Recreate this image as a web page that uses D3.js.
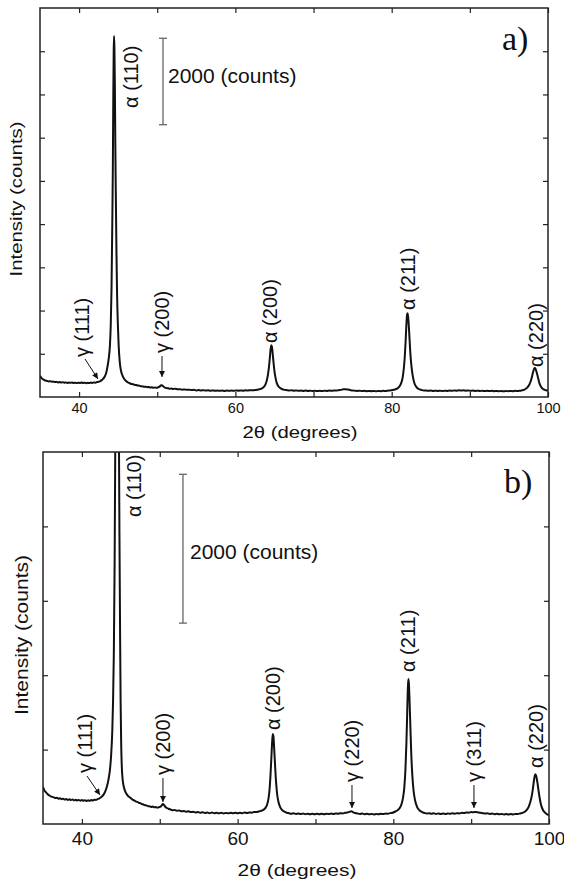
<!DOCTYPE html>
<html>
<head>
<meta charset="utf-8">
<script src="https://cdn.jsdelivr.net/npm/d3@7"></script>
<style>
  html, body { margin: 0; padding: 0; background: #fff; }
  svg { display: block; }
  text { font-family: "Liberation Sans", Arial, Helvetica, sans-serif; fill: #111; }
</style>
</head>
<body>
<svg id="chart" width="564" height="882"></svg>
<script>
// ---- Data: XRD patterns, 2θ (degrees) vs intensity (counts) ----
const angleDomain = [35, 100];
const angleTicks = [40, 50, 60, 70, 80, 90, 100];
const angleTickLabels = [40, 60, 80, 100];

const countMaxA = 9000;
const countTicksA = [1000, 2000, 3000, 4000, 5000, 6000, 7000, 8000];
const countMaxB = 5000;
const countTicksB = [1000, 2000, 3000, 4000];

const patternA = [
  [35.0,490],[35.15,450],[35.3,420],[35.5,395],[35.7,380],[35.9,372],[36.1,360],[36.3,366],[36.5,352],[36.7,358],
  [36.9,345],[37.1,350],[37.3,338],[37.5,346],[37.7,335],[37.9,342],[38.1,330],[38.3,338],[38.5,326],[38.7,334],
  [38.9,328],[39.1,336],[39.3,324],[39.5,332],[39.7,322],[39.9,330],[40.1,325],[40.3,335],[40.5,324],[40.7,332],
  [40.9,320],[41.1,328],[41.3,322],[41.5,334],[41.7,326],[41.9,336],[42.1,332],[42.3,345],[42.5,352],[42.7,368],
  [42.9,390],[43.1,425],[43.3,480],[43.5,580],[43.65,720],[43.8,900],[43.95,1200],[44.05,1650],[44.15,2500],[44.25,4000],
  [44.32,5300],[44.38,7000],[44.43,8000],[44.47,8350],[44.52,8100],[44.58,7200],[44.64,5800],[44.7,4700],[44.78,3400],[44.86,2400],
  [44.95,1750],[45.05,1250],[45.2,820],[45.35,620],[45.5,520],[45.7,440],[45.9,390],[46.1,355],[46.3,335],[46.5,318],
  [46.7,300],[46.9,296],[47.1,282],[47.3,278],[47.5,265],[47.7,262],[47.9,250],[48.1,246],[48.3,238],[48.5,240],
  [48.7,228],[48.9,232],[49.1,220],[49.3,224],[49.5,214],[49.7,220],[49.9,212],[50.1,222],[50.3,240],[50.5,272],
  [50.65,268],[50.8,240],[51.0,215],[51.2,205],[51.4,200],[51.6,192],[51.8,196],[52.0,186],[52.3,190],[52.6,178],
  [52.9,182],[53.2,170],[53.5,175],[53.8,165],[54.1,170],[54.4,160],[54.7,165],[55.0,152],[55.3,160],[55.6,150],
  [55.9,158],[56.2,148],[56.5,155],[56.8,145],[57.1,153],[57.4,144],[57.7,150],[58.0,142],[58.3,150],[58.6,140],
  [58.9,148],[59.2,142],[59.5,150],[59.8,143],[60.1,152],[60.4,145],[60.7,153],[61.0,146],[61.3,155],[61.6,150],
  [61.9,158],[62.2,154],[62.5,162],[62.8,168],[63.1,180],[63.4,200],[63.65,235],[63.85,290],[64.0,370],[64.15,500],
  [64.3,700],[64.42,930],[64.52,1130],[64.6,1200],[64.68,1160],[64.78,990],[64.9,760],[65.02,570],[65.15,430],[65.3,320],
  [65.5,250],[65.75,205],[66.0,180],[66.3,165],[66.6,158],[66.9,150],[67.2,156],[67.5,146],[67.8,152],[68.1,143],
  [68.4,150],[68.7,140],[69.0,148],[69.3,139],[69.6,146],[69.9,138],[70.2,145],[70.5,137],[70.8,144],[71.1,138],
  [71.4,146],[71.7,140],[72.0,148],[72.3,142],[72.6,150],[72.9,148],[73.2,158],[73.5,165],[73.8,178],[74.1,182],
  [74.4,172],[74.7,160],[75.0,150],[75.3,146],[75.6,140],[75.9,146],[76.2,137],[76.5,143],[76.8,135],[77.1,141],
  [77.4,133],[77.7,140],[78.0,132],[78.3,140],[78.6,135],[78.9,142],[79.2,138],[79.5,146],[79.8,152],[80.1,162],
  [80.4,175],[80.7,195],[80.95,235],[81.2,315],[81.4,450],[81.55,660],[81.68,950],[81.78,1280],[81.88,1670],[81.96,1900],
  [82.02,1940],[82.1,1860],[82.2,1620],[82.3,1290],[82.42,930],[82.56,660],[82.72,460],[82.9,325],[83.15,235],[83.45,185],
  [83.8,162],[84.1,150],[84.4,150],[84.7,142],[85.0,148],[85.3,140],[85.6,147],[85.9,139],[86.2,146],[86.5,138],
  [86.8,145],[87.1,140],[87.4,148],[87.7,144],[88.0,152],[88.3,146],[88.6,154],[88.9,148],[89.2,155],[89.5,147],
  [89.8,152],[90.1,144],[90.4,150],[90.7,141],[91.0,147],[91.3,139],[91.6,145],[91.9,137],[92.2,143],[92.5,136],
  [92.8,142],[93.1,134],[93.4,140],[93.7,133],[94.0,139],[94.3,132],[94.6,138],[94.9,134],[95.2,140],[95.5,135],
  [95.8,142],[96.1,140],[96.4,146],[96.6,152],[96.8,160],[97.0,172],[97.2,195],[97.4,230],[97.6,285],[97.8,370],
  [97.95,470],[98.1,585],[98.22,650],[98.3,670],[98.4,652],[98.55,570],[98.7,465],[98.85,355],[99.0,275],[99.2,210],
  [99.45,175],[99.7,158],[99.85,152],[100.0,160]
];

const patternB = [
  [35.0,500],[35.1,470],[35.25,440],[35.4,425],[35.6,400],[35.8,385],[36.0,372],[36.2,364],[36.4,358],[36.6,348],
  [36.8,352],[37.0,340],[37.2,346],[37.4,334],[37.6,340],[37.8,328],[38.0,336],[38.2,324],[38.4,332],[38.6,322],
  [38.8,330],[39.0,318],[39.2,326],[39.4,316],[39.6,324],[39.8,314],[40.0,322],[40.2,312],[40.4,320],[40.6,310],
  [40.8,318],[41.0,312],[41.2,322],[41.4,316],[41.6,326],[41.8,324],[42.0,334],[42.2,342],[42.4,356],[42.6,372],
  [42.8,398],[43.0,440],[43.2,500],[43.4,590],[43.6,730],[43.75,920],[43.9,1250],[44.0,1650],[44.1,2300],[44.2,3500],
  [44.28,5000],[44.35,7000],[44.42,9000],[44.5,10500],[44.58,9500],[44.66,7500],[44.74,5500],[44.82,3900],[44.9,2600],[44.97,1650],
  [45.04,1100],[45.12,780],[45.22,610],[45.36,510],[45.5,455],[45.7,410],[45.9,380],[46.1,362],[46.3,345],[46.5,328],
  [46.7,318],[46.9,304],[47.1,298],[47.3,286],[47.5,280],[47.7,268],[47.9,262],[48.1,252],[48.3,250],[48.5,240],
  [48.7,238],[48.9,230],[49.1,234],[49.3,224],[49.5,228],[49.7,220],[49.9,226],[50.1,232],[50.25,250],[50.4,268],
  [50.55,255],[50.7,232],[50.9,215],[51.1,205],[51.3,198],[51.5,190],[51.7,185],[51.9,188],[52.2,178],[52.5,182],
  [52.8,170],[53.1,175],[53.4,165],[53.7,170],[54.0,160],[54.3,165],[54.6,156],[54.9,162],[55.2,152],[55.5,158],
  [55.8,148],[56.1,155],[56.4,146],[56.7,153],[57.0,145],[57.3,151],[57.6,143],[57.9,150],[58.2,142],[58.5,149],
  [58.8,143],[59.1,150],[59.4,144],[59.7,151],[60.0,145],[60.3,152],[60.6,146],[60.9,154],[61.2,148],[61.5,156],
  [61.8,152],[62.1,160],[62.4,160],[62.7,168],[63.0,176],[63.3,190],[63.6,220],[63.8,265],[63.97,345],[64.1,460],
  [64.22,650],[64.34,900],[64.44,1110],[64.52,1210],[64.6,1180],[64.7,1010],[64.82,770],[64.95,550],[65.08,400],[65.25,295],
  [65.45,230],[65.7,190],[66.0,166],[66.3,152],[66.6,145],[66.9,138],[67.2,144],[67.5,135],[67.8,142],[68.1,133],
  [68.4,140],[68.7,132],[69.0,139],[69.3,131],[69.6,138],[69.9,130],[70.2,137],[70.5,130],[70.8,138],[71.1,131],
  [71.4,139],[71.7,133],[72.0,140],[72.3,134],[72.6,142],[72.9,138],[73.2,145],[73.5,142],[73.8,150],[74.1,155],
  [74.4,165],[74.6,170],[74.85,158],[75.1,148],[75.4,142],[75.7,136],[76.0,141],[76.3,132],[76.6,138],[76.9,130],
  [77.2,136],[77.5,129],[77.8,135],[78.1,130],[78.4,138],[78.7,133],[79.0,140],[79.3,137],[79.6,146],[79.9,152],
  [80.2,165],[80.5,182],[80.8,212],[81.05,265],[81.25,355],[81.42,500],[81.56,740],[81.68,1080],[81.78,1470],[81.86,1800],
  [81.93,1950],[82.0,1890],[82.08,1680],[82.18,1350],[82.3,960],[82.44,660],[82.6,450],[82.8,315],[83.05,230],[83.35,185],
  [83.7,160],[84.0,148],[84.3,140],[84.6,145],[84.9,137],[85.2,143],[85.5,136],[85.8,142],[86.1,134],[86.4,141],
  [86.7,135],[87.0,142],[87.3,137],[87.6,143],[87.9,139],[88.2,146],[88.5,142],[88.8,150],[89.1,148],[89.4,155],
  [89.7,152],[90.0,160],[90.3,158],[90.6,162],[90.9,156],[91.2,150],[91.5,146],[91.8,140],[92.1,144],[92.4,135],
  [92.7,140],[93.0,132],[93.3,138],[93.6,130],[93.9,136],[94.2,129],[94.5,135],[94.8,128],[95.1,134],[95.4,129],
  [95.7,136],[96.0,134],[96.3,142],[96.6,150],[96.9,165],[97.15,190],[97.4,235],[97.6,295],[97.8,385],[97.95,490],
  [98.08,595],[98.18,652],[98.26,670],[98.36,645],[98.5,565],[98.64,460],[98.8,350],[98.95,270],[99.15,205],[99.4,162],
  [99.65,138],[99.85,126],[100.0,130]
];

// Peak labels: text, 2θ of label centre, count at which the label starts
const peakLabelsA = [
  { text: "γ (111)", at: 40.37, base: 925 },
  { text: "α (110)", at: 46.64, base: 6687 },
  { text: "γ (200)", at: 50.61, base: 1018 },
  { text: "α (200)", at: 64.43, base: 1249 },
  { text: "α (211)", at: 82.09, base: 2013 },
  { text: "α (220)", at: 98.47, base: 694 }
];
const peakLabelsB = [
  { text: "α (110)", at: 46.69, base: 4126 },
  { text: "γ (111)", at: 40.39, base: 685 },
  { text: "γ (200)", at: 50.41, base: 659 },
  { text: "α (200)", at: 64.54, base: 1263 },
  { text: "γ (220)", at: 74.69, base: 565 },
  { text: "α (211)", at: 81.89, base: 2043 },
  { text: "γ (311)", at: 90.36, base: 565 },
  { text: "α (220)", at: 98.33, base: 753 }
];

// Arrows pointing at the weak austenite reflections: [2θ, counts] → [2θ, counts]
const arrowsA = [
  [[40.76, 879], [42.42, 416]],
  [[50.61, 949], [50.61, 463]]
];
const arrowsB = [
  [[40.65, 645], [42.32, 390]],
  [[50.41, 618], [50.41, 296]],
  [[74.69, 524], [74.69, 215]],
  [[90.36, 524], [90.36, 215]]
];

// Intensity scale bars (2θ position, lower and upper count)
const scaleBarA = { at: 50.74, from: 6300, to: 8300, text: "2000 (counts)" };
const scaleBarB = { at: 52.98, from: 2700, to: 4700, text: "2000 (counts)" };

// ---- Layout ----
const panels = [
  {
    id: "a", tag: "a)", data: patternA, labels: peakLabelsA, arrows: arrowsA, bar: scaleBarA,
    countMax: countMaxA, countTicks: countTicksA,
    left: 40, right: 548, top: 8, bottom: 397,
    tickFont: 14.5, tickPad: 6,
    barTextDx: 5, barTextDy: 2,
    xTitle: { x: 300, y: 438, size: 17, len: 115 },
    yTitle: { x: 22, y: 199, size: 17, len: 155 },
    tagPos: { x: 502, y: 50 }
  },
  {
    id: "b", tag: "b)", data: patternB, labels: peakLabelsB, arrows: arrowsB, bar: scaleBarB,
    countMax: countMaxB, countTicks: countTicksB,
    left: 43, right: 549, top: 452, bottom: 824,
    tickFont: 19, tickPad: 7.5,
    barTextDx: 7, barTextDy: 10.5,
    xTitle: { x: 297, y: 876, size: 17, len: 119 },
    yTitle: { x: 27.5, y: 635, size: 19, len: 160 },
    tagPos: { x: 504, y: 493 }
  }
];

const svg = d3.select("#chart");
const defs = svg.append("defs");

defs.append("marker")
  .attr("id", "arrowhead")
  .attr("viewBox", "0 0 10 10")
  .attr("refX", 10).attr("refY", 5)
  .attr("markerWidth", 7).attr("markerHeight", 6)
  .attr("markerUnits", "userSpaceOnUse")
  .attr("orient", "auto")
  .append("path")
  .attr("d", "M0,0 L10,5 L0,10 Z")
  .attr("fill", "#111");

function drawPanel(p) {
  const x = d3.scaleLinear().domain(angleDomain).range([p.left, p.right]);
  const y = d3.scaleLinear().domain([0, p.countMax]).range([p.bottom, p.top]);
  const g = svg.append("g").attr("class", "panel-" + p.id);

  defs.append("clipPath").attr("id", "clip-" + p.id)
    .append("rect")
    .attr("x", p.left).attr("y", p.top)
    .attr("width", p.right - p.left).attr("height", p.bottom - p.top);

  const tick = 5;
  const styleAxis = sel => {
    sel.select(".domain").remove();
    sel.selectAll(".tick line").attr("stroke", "#222").attr("stroke-width", 1.2);
    sel.attr("font-family", null).attr("font-size", null);
  };

  g.append("g")
    .attr("transform", `translate(0,${p.bottom})`)
    .call(d3.axisBottom(x).tickValues(angleTicks).tickSize(-tick).tickPadding(p.tickPad)
      .tickFormat(d => angleTickLabels.includes(d) ? String(d) : ""))
    .call(styleAxis)
    .selectAll("text").style("font-size", p.tickFont + "px").attr("fill", "#111");

  g.append("g")
    .attr("transform", `translate(0,${p.top})`)
    .call(d3.axisTop(x).tickValues(angleTicks).tickSize(-tick).tickFormat(""))
    .call(styleAxis);

  g.append("g")
    .attr("transform", `translate(${p.left},0)`)
    .call(d3.axisLeft(y).tickValues(p.countTicks).tickSize(-tick).tickFormat(""))
    .call(styleAxis);

  g.append("g")
    .attr("transform", `translate(${p.right},0)`)
    .call(d3.axisRight(y).tickValues(p.countTicks).tickSize(-tick).tickFormat(""))
    .call(styleAxis);

  // diffraction pattern
  const line = d3.line()
    .x(d => x(d[0]))
    .y(d => y(d[1]))
    .curve(d3.curveMonotoneX);

  g.append("path")
    .datum(p.data)
    .attr("clip-path", `url(#clip-${p.id})`)
    .attr("d", line)
    .attr("fill", "none")
    .attr("stroke", "#111")
    .attr("stroke-width", 2)
    .attr("stroke-linejoin", "round");

  // frame
  g.append("rect")
    .attr("x", p.left).attr("y", p.top)
    .attr("width", p.right - p.left).attr("height", p.bottom - p.top)
    .attr("fill", "none")
    .attr("stroke", "#222")
    .attr("stroke-width", 1.5);

  // scale bar
  const bx = x(p.bar.at), by0 = y(p.bar.from), by1 = y(p.bar.to);
  const bar = g.append("g").attr("stroke", "#666").attr("stroke-width", 1.3);
  bar.append("line").attr("x1", bx).attr("x2", bx).attr("y1", by0).attr("y2", by1);
  bar.append("line").attr("x1", bx - 4).attr("x2", bx + 4).attr("y1", by0).attr("y2", by0);
  bar.append("line").attr("x1", bx - 4).attr("x2", bx + 4).attr("y1", by1).attr("y2", by1);
  g.append("text")
    .attr("x", bx + p.barTextDx)
    .attr("y", (by0 + by1) / 2 + p.barTextDy)
    .style("font-size", "21px")
    .text(p.bar.text);

  // peak labels
  g.selectAll("text.peak")
    .data(p.labels)
    .join("text")
    .attr("class", "peak")
    .attr("transform", d => `translate(${x(d.at)},${y(d.base)}) rotate(-90)`)
    .attr("text-anchor", "start")
    .attr("dominant-baseline", "central")
    .style("font-size", "20px")
    .text(d => d.text);

  // arrows
  g.selectAll("line.arrow")
    .data(p.arrows)
    .join("line")
    .attr("class", "arrow")
    .attr("x1", d => x(d[0][0])).attr("y1", d => y(d[0][1]))
    .attr("x2", d => x(d[1][0])).attr("y2", d => y(d[1][1]))
    .attr("stroke", "#111")
    .attr("stroke-width", 1)
    .attr("marker-end", "url(#arrowhead)");

  // axis titles
  g.append("text")
    .attr("x", p.xTitle.x).attr("y", p.xTitle.y)
    .attr("text-anchor", "middle")
    .attr("textLength", p.xTitle.len)
    .attr("lengthAdjust", "spacingAndGlyphs")
    .style("font-size", p.xTitle.size + "px")
    .text("2θ (degrees)");

  g.append("text")
    .attr("transform", `translate(${p.yTitle.x},${p.yTitle.y}) rotate(-90)`)
    .attr("text-anchor", "middle")
    .attr("textLength", p.yTitle.len)
    .attr("lengthAdjust", "spacingAndGlyphs")
    .style("font-size", p.yTitle.size + "px")
    .text("Intensity (counts)");

  // panel tag
  g.append("text")
    .attr("x", p.tagPos.x).attr("y", p.tagPos.y)
    .style("font-family", "'Liberation Serif', 'Times New Roman', serif")
    .style("font-size", "34px")
    .text(p.tag);
}

panels.forEach(drawPanel);
</script>
</body>
</html>
